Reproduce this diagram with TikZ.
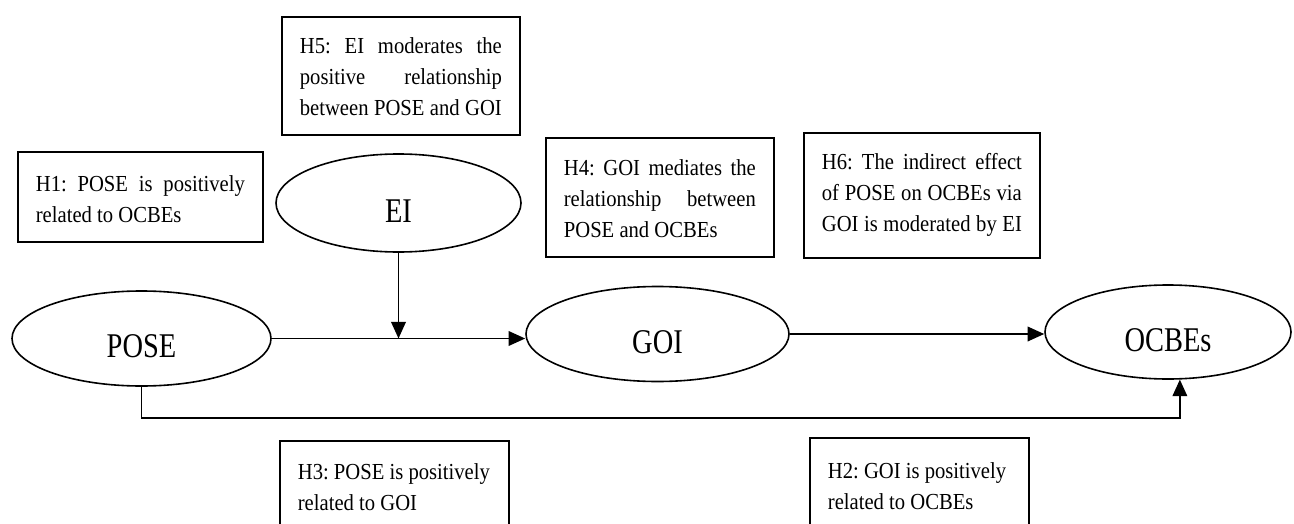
\documentclass[tikz,border=0pt]{standalone}
\usepackage{fontspec}
\setmainfont{Liberation Serif}
\newfontfamily\labfont[FakeStretch=0.82]{Liberation Serif}
\newfontfamily\hypfont[FakeStretch=0.9]{Liberation Serif}
\usetikzlibrary{shapes.geometric,arrows.meta}
\frenchspacing
\newcommand\hyptext[4]{\parbox[c][#2][t]{#1}{\vspace*{#3}#4}}
\newcommand\jline[1]{\strut\makebox[\linewidth][s]{#1}\par}
\newcommand\lline[1]{\strut #1\par}
\tikzset{
  hyp/.style={draw, line width=1.3pt, inner xsep=13.5pt, inner ysep=0pt, anchor=north west,
    font=\hypfont\fontsize{17.2}{23.25}\selectfont},
  var/.style={draw, ellipse, line width=1.2pt, inner sep=0pt, text height=29pt, text depth=0pt,
    font=\labfont\fontsize{26}{26}\selectfont},
  arr/.style={line width=1.3pt, -{Triangle[length=12.5pt,width=11pt]}}
}
\begin{document}
\begin{tikzpicture}[x=0.75pt,y=-0.75pt]
\useasboundingbox (0,0) rectangle (1294,524);
\fill[white] (0,0) rectangle (1294,524);
% hypothesis boxes
\node[hyp] (h5) at (281,16) {\hyptext{151.5pt}{88.5pt}{11.45pt}{\jline{H5: EI moderates the}\jline{positive relationship}\jline{between POSE and GOI}}};
\node[hyp] (h1) at (17,151) {\hyptext{156.75pt}{67.5pt}{13.7pt}{\jline{H1: POSE is positively}\lline{related to OCBEs}}};
\node[hyp] (h4) at (545,137) {\hyptext{144pt}{89.25pt}{12.2pt}{\jline{H4: GOI mediates the}\jline{relationship between}\lline{POSE and OCBEs}}};
\node[hyp] (h6) at (803,132) {\hyptext{150pt}{93.75pt}{11.45pt}{\jline{H6: The indirect effect}\jline{of POSE on OCBEs via}\jline{GOI is moderated by EI}}};
\node[hyp] (h3) at (279,440) {\hyptext{144.75pt}{71.25pt}{12.7pt}{\lline{H3: POSE is positively}\lline{related to GOI}}};
\node[hyp] (h2) at (809,437) {\hyptext{137.25pt}{71.25pt}{14.2pt}{\lline{H2: GOI is positively}\lline{related to OCBEs}}};
% variables
\node[var, minimum width=183.75pt, minimum height=73.5pt] (ei) at (398.5,203) {EI};
\node[var, minimum width=194.25pt, minimum height=71.25pt] (pose) at (141.5,338.5) {POSE};
\node[var, minimum width=197.25pt, minimum height=71.25pt] (goi) at (657.5,334) {GOI};
\node[var, minimum width=184.5pt, minimum height=70.5pt] (ocbes) at (1168,332) {OCBEs};
% connectors
\draw[arr] (pose.east) -- (pose.east -| goi.west);
\draw[arr] (ei.south) -- (ei.south |- pose.east);
\draw[arr] (goi.east) -- (goi.east -| ocbes.west);
\draw[arr] (pose.south) -- ++(0,31) -| (ocbes.-76);
\end{tikzpicture}
\end{document}
